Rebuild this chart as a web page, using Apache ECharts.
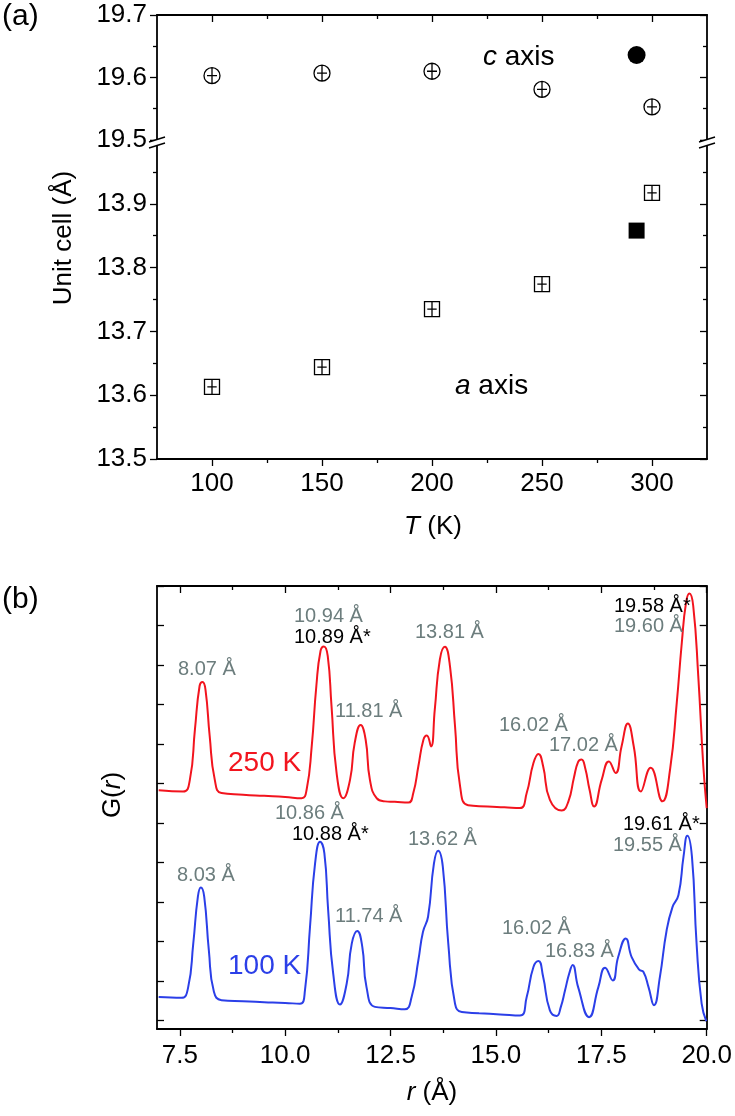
<!DOCTYPE html>
<html>
<head>
<meta charset="utf-8" />
<title>Unit cell vs T and G(r)</title>
<style>
  html, body { margin: 0; padding: 0; background: #fff; }
  #main { width: 735px; height: 1116px; }
</style>
<script src="https://cdn.jsdelivr.net/npm/echarts@6.0.0/dist/echarts.min.js"></script>
</head>
<body>
<div id="main"></div>
<script>
// (a) lattice parameters against temperature
const tempK = [100, 150, 200, 250, 300];
const cAxis = [19.603, 19.607, 19.610, 19.581, 19.553];
const aAxis = [13.613, 13.644, 13.735, 13.774, 13.917];
const roomTemp = [293];
const cRoom = [19.636];
const aRoom = [13.858];
const tMajor = [100, 150, 200, 250, 300];
const tMinor = [125, 175, 225, 275];

// (b) G(r) at 250 K and 100 K (arbitrary units)
const r250 = [7.0, 7.58, 7.74, 7.86, 7.97, 8.04, 8.11, 8.21, 8.33, 8.49, 9.0, 9.5, 10.0, 10.39, 10.51, 10.63, 10.74, 10.84, 10.92, 11.01, 11.10, 11.22, 11.38, 11.54, 11.65, 11.79, 11.91, 12.01, 12.17, 12.37, 12.6, 12.92, 13.04, 13.16, 13.28, 13.36, 13.46, 13.55, 13.67, 13.79, 13.91, 14.03, 14.15, 14.34, 14.8, 15.2, 15.57, 15.73, 15.89, 16.01, 16.12, 16.28, 16.56, 16.72, 16.85, 16.95, 17.03, 17.12, 17.22, 17.33, 17.51, 17.68, 17.84, 17.98, 18.13, 18.27, 18.44, 18.67, 18.95, 19.13, 19.29, 19.41, 19.51, 19.59, 19.68, 19.80, 19.92, 20.0];
const g250 = [5.83, 5.80, 6.10, 7.37, 8.47, 8.57, 8.38, 7.20, 6.10, 5.76, 5.72, 5.69, 5.66, 5.63, 5.85, 6.94, 8.47, 9.36, 9.47, 9.23, 7.96, 6.27, 5.63, 6.10, 7.03, 7.48, 7.11, 6.10, 5.63, 5.55, 5.54, 5.52, 5.76, 6.44, 7.11, 7.22, 6.94, 7.88, 9.14, 9.46, 8.97, 7.45, 5.93, 5.45, 5.42, 5.40, 5.38, 5.76, 6.52, 6.75, 6.44, 5.59, 5.32, 5.55, 6.15, 6.55, 6.61, 6.38, 5.85, 5.42, 6.10, 6.56, 6.27, 6.94, 7.52, 6.94, 5.80, 6.40, 5.55, 6.35, 8.05, 9.57, 10.58, 10.81, 10.50, 8.72, 6.44, 5.38];
const r100 = [7.0, 7.54, 7.70, 7.82, 7.93, 8.00, 8.08, 8.19, 8.31, 8.49, 9.0, 9.5, 10.0, 10.35, 10.47, 10.59, 10.71, 10.83, 10.93, 11.02, 11.14, 11.30, 11.46, 11.58, 11.71, 11.83, 11.93, 12.13, 12.5, 12.84, 13.0, 13.16, 13.27, 13.39, 13.53, 13.63, 13.74, 13.87, 14.03, 14.19, 14.6, 15.1, 15.57, 15.73, 15.89, 16.01, 16.12, 16.28, 16.44, 16.54, 16.64, 16.74, 16.82, 16.95, 17.21, 17.43, 17.59, 17.77, 17.90, 18.08, 18.22, 18.40, 18.50, 18.62, 18.75, 18.89, 19.05, 19.19, 19.33, 19.45, 19.54, 19.65, 19.76, 19.88, 19.99];
const g100 = [0.60, 0.58, 0.85, 1.95, 3.14, 3.37, 3.14, 1.78, 0.73, 0.52, 0.49, 0.47, 0.45, 0.43, 0.77, 2.38, 3.98, 4.53, 4.24, 2.80, 1.19, 0.41, 0.94, 1.95, 2.27, 1.87, 0.85, 0.35, 0.32, 0.29, 0.60, 1.53, 2.25, 2.63, 3.98, 4.30, 3.90, 1.95, 0.43, 0.22, 0.19, 0.16, 0.13, 0.60, 1.36, 1.51, 1.11, 0.26, 0.12, 0.35, 0.77, 1.20, 1.41, 0.85, 0.09, 0.85, 1.34, 1.02, 1.61, 2.08, 1.61, 1.29, 1.23, 0.85, 0.39, 1.11, 2.29, 2.88, 3.18, 4.15, 4.68, 4.15, 1.95, 0.43, -0.01];
const rMajor = [7.5, 10, 12.5, 15, 17.5, 20];
const rMinor = [8.75, 11.25, 13.75, 16.25, 18.75];
const gTicks = [0, 1, 2, 3, 4, 5, 6, 7, 8, 9, 10, 11];

const FONT = '"Liberation Sans", Arial, Helvetica, sans-serif';
const RED = '#f2141e';
const BLUE = '#2b3fe8';
const GREY = '#6c7d7d';

function xAx(grid, pos, min, max, ticks, len, inside, showLine, labels, fmt, margin) {
  return {
    type: 'value', gridIndex: grid, position: pos, min: min, max: max,
    axisLine: { show: showLine, onZero: false, lineStyle: { color: '#000', width: 1.8 } },
    axisTick: { show: true, customValues: ticks, length: len, inside: inside, lineStyle: { color: '#000', width: 1.3 } },
    axisLabel: labels ? {
      show: true, customValues: labels, formatter: fmt, margin: margin,
      color: '#000', fontSize: 26, fontFamily: FONT
    } : { show: false },
    splitLine: { show: false }
  };
}

function yAx(grid, pos, min, max, inside, labelled, fmt) {
  return {
    type: 'value', gridIndex: grid, position: pos, min: min, max: max, interval: 0.1,
    axisLine: { show: true, onZero: false, lineStyle: { color: '#000', width: 1.8 } },
    axisTick: { show: true, length: 7, inside: inside, lineStyle: { color: '#000', width: 1.3 } },
    minorTick: { show: true, splitNumber: 2, length: 4, lineStyle: { color: '#000', width: 1.3 } },
    axisLabel: labelled ? { show: true, formatter: fmt, margin: 10, color: '#000', fontSize: 26, fontFamily: FONT, showMinLabel: true, showMaxLabel: true } : { show: false },
    splitLine: { show: false }
  };
}

function gAx(pos) {
  return {
    type: 'value', gridIndex: 2, position: pos, min: -0.21, max: 11,
    axisLine: { show: true, onZero: false, lineStyle: { color: '#000', width: 1.8 } },
    axisTick: { show: true, customValues: gTicks, length: 7, inside: true, lineStyle: { color: '#000', width: 1.3 } },
    axisLabel: { show: false },
    splitLine: { show: false }
  };
}

function txt(x, y, text, size, color, align, extra) {
  const el = {
    type: 'text', x: x, y: y, z: 100,
    style: {
      text: text, fontSize: size, fontFamily: FONT, fill: color,
      textAlign: align, align: align, textVerticalAlign: 'middle', verticalAlign: 'middle'
    }
  };
  if (extra) Object.assign(el.style, extra.style || {});
  if (extra && extra.rotation) el.rotation = extra.rotation;
  return el;
}

function breakMark(x, y) {
  return [
    { type: 'polygon', z: 100, shape: { points: [[x - 8, y + 2], [x + 8, y - 3], [x + 8, y + 3], [x - 8, y + 8]] }, style: { fill: '#fff' } },
    { type: 'line', z: 101, shape: { x1: x - 8, y1: y + 2, x2: x + 8, y2: y - 3 }, style: { stroke: '#000', lineWidth: 1.4 } },
    { type: 'line', z: 101, shape: { x1: x - 8, y1: y + 8, x2: x + 8, y2: y + 3 }, style: { stroke: '#000', lineWidth: 1.4 } }
  ];
}

const it = { it: { fontStyle: 'italic', fontSize: 26, fontFamily: FONT } };
const it28 = { it: { fontStyle: 'italic', fontSize: 28, fontFamily: FONT } };

const crossCircle = 'path://M8,0A8,8,0,1,1,8,16A8,8,0,1,1,8,0ZM8,0L8,16M3,8L13,8';
const crossSquare = 'path://M0,0L16,0L16,16L0,16ZM8,0L8,16M3,8L13,8';
const openStyle = { color: '#fff', borderColor: '#000', borderWidth: 1.3, opacity: 1 };

const intFmt = v => String(Math.round(v));
const rFmt = v => v.toFixed(1);

const peakLabels = [
  // 250 K
  txt(178, 669, '8.07 Å', 20, GREY, 'left'),
  txt(294, 616, '10.94 Å', 20, GREY, 'left'),
  txt(294, 637, '10.89 Å*', 20, '#000', 'left'),
  txt(335, 711, '11.81 Å', 20, GREY, 'left'),
  txt(415, 632, '13.81 Å', 20, GREY, 'left'),
  txt(499, 725, '16.02 Å', 20, GREY, 'left'),
  txt(549, 745, '17.02 Å', 20, GREY, 'left'),
  txt(614, 606, '19.58 Å*', 20, '#000', 'left'),
  txt(614, 626, '19.60 Å', 20, GREY, 'left'),
  txt(228, 763, '250 K', 28, RED, 'left'),
  // 100 K
  txt(177, 875, '8.03 Å', 20, GREY, 'left'),
  txt(275, 813, '10.86 Å', 20, GREY, 'left'),
  txt(292, 834, '10.88 Å*', 20, '#000', 'left'),
  txt(335, 916, '11.74 Å', 20, GREY, 'left'),
  txt(408, 839, '13.62 Å', 20, GREY, 'left'),
  txt(502, 928, '16.02 Å', 20, GREY, 'left'),
  txt(545, 951, '16.83 Å', 20, GREY, 'left'),
  txt(623, 824, '19.61 Å*', 20, '#000', 'left'),
  txt(613, 845, '19.55 Å', 20, GREY, 'left'),
  txt(228, 966, '100 K', 28, BLUE, 'left')
];

const option = {
  animation: false,
  backgroundColor: '#fff',
  grid: [
    { left: 157, right: 28, top: 15, height: 125 },
    { left: 157, right: 28, top: 140, height: 319 },
    { left: 157, right: 28, top: 586, height: 443 }
  ],
  xAxis: [
    xAx(0, 'top', 75, 325, tMajor, 7, true, true, null),
    xAx(0, 'top', 75, 325, tMinor, 4, true, false, null),
    xAx(1, 'bottom', 75, 325, tMajor, 7, false, true, tMajor, intFmt, 12),
    xAx(1, 'bottom', 75, 325, tMinor, 4, false, false, null),
    xAx(2, 'bottom', 6.96, 20, rMajor, 7, false, true, rMajor, rFmt, 14),
    xAx(2, 'bottom', 6.96, 20, rMinor, 4, false, false, null),
    xAx(2, 'top', 6.96, 20, rMajor, 7, true, true, null),
    xAx(2, 'top', 6.96, 20, rMinor, 4, true, false, null)
  ],
  yAxis: [
    yAx(0, 'left', 19.5, 19.7, false, true, v => v.toFixed(1)),
    yAx(0, 'right', 19.5, 19.7, true, false),
    yAx(1, 'left', 13.5, 14.0, false, true, v => (v > 13.95 ? '' : v.toFixed(1))),
    yAx(1, 'right', 13.5, 14.0, true, false),
    gAx('left'),
    gAx('right')
  ],
  series: [
    {
      name: 'c axis', type: 'scatter', xAxisIndex: 0, yAxisIndex: 0,
      data: tempK.map((t, i) => [t, cAxis[i]]),
      symbol: crossCircle, symbolSize: 16, itemStyle: openStyle, silent: true
    },
    {
      name: 'c axis RT', type: 'scatter', xAxisIndex: 0, yAxisIndex: 0,
      data: roomTemp.map((t, i) => [t, cRoom[i]]),
      symbol: 'circle', symbolSize: 18, itemStyle: { color: '#000', opacity: 1 }, silent: true
    },
    {
      name: 'a axis', type: 'scatter', xAxisIndex: 2, yAxisIndex: 2,
      data: tempK.map((t, i) => [t, aAxis[i]]),
      symbol: crossSquare, symbolSize: 15, itemStyle: openStyle, silent: true
    },
    {
      name: 'a axis RT', type: 'scatter', xAxisIndex: 2, yAxisIndex: 2,
      data: roomTemp.map((t, i) => [t, aRoom[i]]),
      symbol: 'rect', symbolSize: 16, itemStyle: { color: '#000', opacity: 1 }, silent: true
    },
    {
      name: '250 K', type: 'line', xAxisIndex: 4, yAxisIndex: 4,
      data: r250.map((r, i) => [r, g250[i]]),
      symbol: 'none', smooth: 0.5,
      lineStyle: { color: RED, width: 2 }, silent: true
    },
    {
      name: '100 K', type: 'line', xAxisIndex: 4, yAxisIndex: 4,
      data: r100.map((r, i) => [r, g100[i]]),
      symbol: 'none', smooth: 0.5,
      lineStyle: { color: BLUE, width: 2 }, silent: true
    }
  ],
  graphic: [
    txt(2, 17, '(a)', 30, '#000', 'left'),
    txt(2, 600, '(b)', 30, '#000', 'left'),
    txt(483, 57, '{it|c} axis', 28, '#000', 'left', { style: { rich: it28 } }),
    txt(455, 386, '{it|a} axis', 28, '#000', 'left', { style: { rich: it28 } }),
    txt(433, 527, '{it|T} (K)', 26, '#000', 'center', { style: { rich: it } }),
    txt(432, 1093, '{it|r} (Å)', 26, '#000', 'center', { style: { rich: it } }),
    txt(64, 238, 'Unit cell (Å)', 26, '#000', 'center', { rotation: Math.PI / 2 }),
    txt(113, 795, 'G({it|r})', 26, '#000', 'center', { rotation: Math.PI / 2, style: { rich: it } })
  ].concat(breakMark(157, 140), breakMark(707, 140), peakLabels)
};

const chart = echarts.init(document.getElementById('main'));
chart.setOption(option);
</script>
</body>
</html>
